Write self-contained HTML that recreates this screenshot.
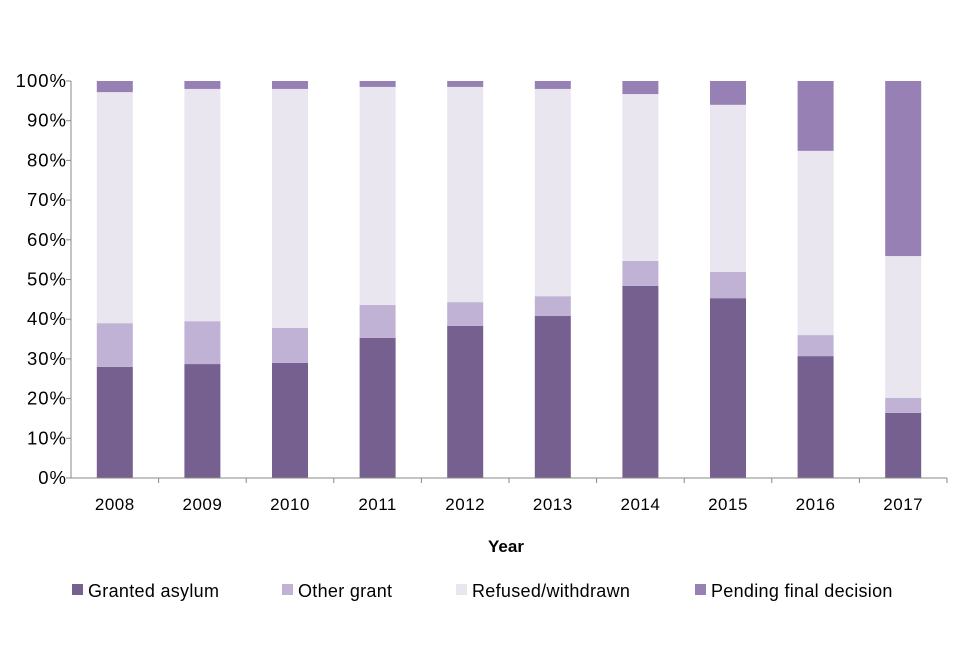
<!DOCTYPE html>
<html><head><meta charset="utf-8"><style>
body{margin:0;background:#fff;font-family:"Liberation Sans",sans-serif}
svg text{font-family:"Liberation Sans",sans-serif;fill:#000}
</style></head><body>
<svg width="960" height="640">
<g id="g"></g>
</svg>
<script>
const years=["2008","2009","2010","2011","2012","2013","2014","2015","2016","2017"];
const granted=[28,28.7,29,35.3,38.3,40.8,48.4,45.3,30.7,16.4];
const other=[11,10.8,8.8,8.3,6,5,6.3,6.6,5.3,3.8];
const refused=[58.2,58.5,60.2,54.9,54.2,52.2,42,42.1,46.4,35.7];
const pending=[2.8,2,2,1.5,1.5,2,3.3,6,17.6,44.1];
const yTicks=[0,10,20,30,40,50,60,70,80,90,100];
const seriesNames=["Granted asylum","Other grant","Refused/withdrawn","Pending final decision"];
const colors=["#76608f","#c0b2d4","#e9e6f0","#9680b4"];
const NS="http://www.w3.org/2000/svg",g=document.getElementById('g');
const x0=71,x1=947,y0=478,y1=81;
const band=(x1-x0)/years.length,bw=36;
const y=v=>y0-(v/100)*(y0-y1);
const xc=i=>x0+band*(i+0.5);
function el(t,a,p){const e=document.createElementNS(NS,t);for(const k in a)e.setAttribute(k,a[k]);(p||g).appendChild(e);return e;}
yTicks.forEach(t=>{
 const tl=el('line',{x1:x0-5,x2:x0,y1:y(t),y2:y(t),stroke:'#888'});
 
 
 const tx=el('text',{x:x0-4,y:y(t)+6,'text-anchor':'end','font-size':18.5,'letter-spacing':'1'});
 tx.textContent=t+'%';
 
 
});
const series=[granted,other,refused,pending];
years.forEach((yr,i)=>{
 let cum=0;
 series.forEach((s,k)=>{
  const r=el('rect',{x:xc(i)-bw/2,y:y(cum+s[i]),width:bw,height:y(cum)-y(cum+s[i]),fill:colors[k]});
  
  
  cum+=s[i];
 });
 const t=el('text',{x:xc(i),y:510,'text-anchor':'middle','font-size':17,'letter-spacing':'0.5'});
 t.textContent=yr;
 
 
 const tk=el('line',{x1:x0+band*(i+1),x2:x0+band*(i+1),y1:y0,y2:y0+5,stroke:'#888'});
 
 
});
const ya=el('line',{x1:x0,x2:x0,y1:y1,y2:y0,stroke:'#888'});


const xa=el('line',{x1:x0,x2:x1,y1:y0,y2:y0,stroke:'#888'});


const xt=el('text',{x:506,y:552,'text-anchor':'middle','font-size':17,'font-weight':'bold'});
xt.textContent='Year';


const lx=[72,282,456,695];
seriesNames.forEach((n,k)=>{
 const r=el('rect',{x:lx[k],y:584,width:11,height:11,fill:colors[k]});
 
 
 const t=el('text',{x:lx[k]+16,y:597,'font-size':18,'letter-spacing':'0.3'});
 t.textContent=n;
 
 
});
</script>
</body></html>
